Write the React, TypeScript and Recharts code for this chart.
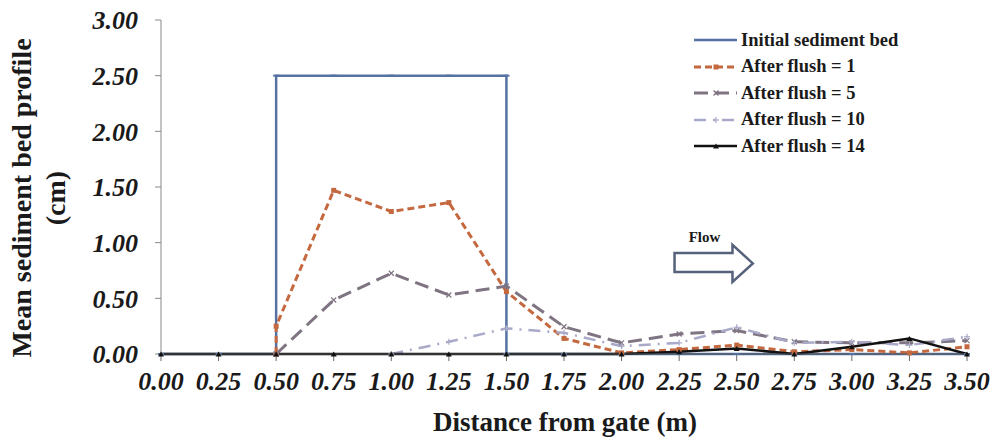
import { LineChart, Line, XAxis, YAxis, Legend, ReferenceArea } from 'recharts';

// Distance (m) / mean bed level (cm) per series
const initialX = [0, 0.25, 0.5, 0.5, 0.75, 1.0, 1.25, 1.5, 1.5, 1.75, 2.0, 2.25, 2.5, 2.75, 3.0, 3.25, 3.5];
const initialY = [0, 0, 0, 2.5, 2.5, 2.5, 2.5, 2.5, 0, 0, 0, 0, 0, 0, 0, 0, 0];

const flush1X = [0.5, 0.5, 0.75, 1.0, 1.25, 1.5, 1.75, 2.0, 2.25, 2.5, 2.75, 3.0, 3.25, 3.5];
const flush1Y = [0, 0.25, 1.47, 1.28, 1.36, 0.56, 0.14, 0.01, 0.04, 0.08, 0.02, 0.04, 0.01, 0.065];

const flush5X = [0.5, 0.75, 1.0, 1.25, 1.5, 1.75, 2.0, 2.25, 2.5, 2.75, 3.0, 3.25, 3.5];
const flush5Y = [0, 0.485, 0.725, 0.53, 0.61, 0.245, 0.1, 0.18, 0.21, 0.11, 0.1, 0.1, 0.12];

const flush10X = [1.0, 1.25, 1.5, 1.75, 2.0, 2.25, 2.5, 2.75, 3.0, 3.25, 3.5];
const flush10Y = [0, 0.11, 0.23, 0.19, 0.07, 0.1, 0.24, 0.1, 0.11, 0.08, 0.155];

const flush14X = [0, 0.25, 0.5, 0.75, 1.0, 1.25, 1.5, 1.75, 2.0, 2.25, 2.5, 2.75, 3.0, 3.25, 3.5];
const flush14Y = [0, 0, 0, 0, 0, 0, 0, 0, 0, 0.02, 0.05, 0, 0.065, 0.14, 0];

const xTicks = [0, 0.25, 0.5, 0.75, 1.0, 1.25, 1.5, 1.75, 2.0, 2.25, 2.5, 2.75, 3.0, 3.25, 3.5];
const yTicks = [0, 0.5, 1.0, 1.5, 2.0, 2.5, 3.0];

const zip = (xs: number[], ys: number[]) => xs.map((x, i) => ({ x, y: ys[i] }));

const SERIF = '"Liberation Serif", "Times New Roman", serif';

type MarkerKind = 'dash' | 'square' | 'cross' | 'plus' | 'tri';

const drawMarker = (kind: MarkerKind, cx: number, cy: number, color: string, key?: string | number) => {
  switch (kind) {
    case 'dash':
      return <line key={key} x1={cx - 3} y1={cy} x2={cx + 3} y2={cy} stroke={color} strokeWidth={2} />;
    case 'square':
      return <rect key={key} x={cx - 2.5} y={cy - 2.5} width={5} height={5} fill={color} />;
    case 'cross':
      return (
        <g key={key} stroke={color} strokeWidth={1.2}>
          <line x1={cx - 2.5} y1={cy - 2.5} x2={cx + 2.5} y2={cy + 2.5} />
          <line x1={cx - 2.5} y1={cy + 2.5} x2={cx + 2.5} y2={cy - 2.5} />
        </g>
      );
    case 'plus':
      return (
        <g key={key} stroke={color} strokeWidth={1.2}>
          <line x1={cx - 3} y1={cy} x2={cx + 3} y2={cy} />
          <line x1={cx} y1={cy - 3} x2={cx} y2={cy + 3} />
        </g>
      );
    default:
      return <path key={key} d={`M${cx - 3},${cy + 2.5} L${cx + 3},${cy + 2.5} L${cx},${cy - 2.5} Z`} fill={color} />;
  }
};

const SERIES = [
  { name: 'Initial sediment bed', data: zip(initialX, initialY), color: '#5572a3', dash: undefined, width: 2.5, marker: 'dash' as MarkerKind },
  { name: 'After flush = 1', data: zip(flush1X, flush1Y), color: '#c4683f', dash: '7 4', width: 3, marker: 'square' as MarkerKind },
  { name: 'After flush = 5', data: zip(flush5X, flush5Y), color: '#7f7481', dash: '14 7', width: 3, marker: 'cross' as MarkerKind },
  { name: 'After flush = 10', data: zip(flush10X, flush10Y), color: '#a9a9c9', dash: '12 7 2 7', width: 2.5, marker: 'plus' as MarkerKind },
  { name: 'After flush = 14', data: zip(flush14X, flush14Y), color: '#111111', dash: undefined, width: 2.5, marker: 'tri' as MarkerKind },
];

const LegendBox = () => (
  <div>
    {SERIES.map((s) => (
      <div key={s.name} style={{ display: 'flex', alignItems: 'center', height: 26.5 }}>
        <svg width={46} height={12} style={{ marginRight: 2 }}>
          <line x1={1} y1={6} x2={44} y2={6} stroke={s.color} strokeWidth={s.width} strokeDasharray={s.dash} />
          {drawMarker(s.marker, 23, 6, s.color)}
        </svg>
        <span style={{ fontFamily: SERIF, fontWeight: 700, fontSize: 18.5, color: '#1a1a1a', whiteSpace: 'nowrap' }}>
          {s.name}
        </span>
      </div>
    ))}
  </div>
);

const YTitle = (props: any) => {
  const vb = props.viewBox || { x: 0, y: 20, width: 161, height: 334 };
  const cy = vb.y + vb.height / 2 + 11;
  const style = { fontFamily: SERIF, fontWeight: 700, fontSize: 28, fill: '#1a1a1a' };
  return (
    <g>
      <text x={31} y={cy} textAnchor="middle" transform={`rotate(-90, 31, ${cy})`} style={style}>
        Mean sediment bed profile
      </text>
      <text x={65} y={cy} textAnchor="middle" transform={`rotate(-90, 65, ${cy})`} style={style}>
        (cm)
      </text>
    </g>
  );
};

const XTitle = (props: any) => {
  const vb = props.viewBox || { x: 161, y: 354, width: 806, height: 87 };
  return (
    <text
      x={vb.x + vb.width / 2 + 1}
      y={vb.y + 77}
      textAnchor="middle"
      style={{ fontFamily: SERIF, fontWeight: 700, fontSize: 27, fill: '#1a1a1a' }}
    >
      Distance from gate (m)
    </text>
  );
};

const FlowArrow = (props: any) => {
  const { x, y, width, height } = props;
  const headX = x + width * 0.74;
  const t = y + height * 0.22;
  const b = y + height * 0.73;
  const pts = [
    [x, t], [headX, t], [headX, y], [x + width, y + height / 2],
    [headX, y + height], [headX, b], [x, b],
  ].map((p) => p.join(',')).join(' ');
  return (
    <g>
      <text x={x + 30} y={y - 3} textAnchor="middle" style={{ fontFamily: SERIF, fontWeight: 700, fontSize: 15, fill: '#1a1a1a' }}>
        Flow
      </text>
      <polygon points={pts} fill="#ffffff" stroke="#56617c" strokeWidth={2.5} strokeLinejoin="miter" />
    </g>
  );
};

const tickStyle = { fontFamily: SERIF, fontWeight: 700, fontStyle: 'italic', fontSize: 26, fill: '#1a1a1a' };

export default function App() {
  return (
    <div style={{ position: 'absolute', left: 0, top: 0, width: 995, height: 441, background: '#ffffff' }}>
      <LineChart width={995} height={441} margin={{ top: 20, right: 28, left: 0, bottom: 0 }}>
        <XAxis
          dataKey="x"
          type="number"
          domain={[0, 3.5]}
          ticks={xTicks}
          interval={0}
          tickFormatter={(v: number) => v.toFixed(2)}
          tick={tickStyle}
          tickSize={7}
          tickMargin={11}
          axisLine={{ stroke: '#555555', strokeWidth: 1 }}
          tickLine={{ stroke: '#666666' }}
          height={87}
          allowDuplicatedCategory
          label={<XTitle />}
        />
        <YAxis
          type="number"
          domain={[0, 3]}
          ticks={yTicks}
          interval={0}
          tickFormatter={(v: number) => v.toFixed(2)}
          tick={tickStyle}
          tickSize={6}
          tickMargin={17}
          axisLine={{ stroke: '#898989' }}
          tickLine={{ stroke: '#898989' }}
          width={161}
          label={<YTitle />}
        />
        <ReferenceArea x1={2.23} x2={2.57} y1={0.647} y2={0.98} shape={<FlowArrow />} ifOverflow="visible" />
        {SERIES.map((s) => (
          <Line
            key={s.name}
            data={s.data}
            dataKey="y"
            name={s.name}
            type="linear"
            stroke={s.color}
            strokeWidth={s.width}
            strokeDasharray={s.dash}
            dot={(p: any) => drawMarker(s.marker, p.cx, p.cy, s.color, `${s.name}-${p.index}`)}
            activeDot={false}
            isAnimationActive={false}
          />
        ))}
        <Legend
          layout="vertical"
          align="center"
          verticalAlign="middle"
          wrapperStyle={{ left: 693, top: 27, width: 300, height: 140 }}
          content={<LegendBox />}
        />
      </LineChart>
    </div>
  );
}
